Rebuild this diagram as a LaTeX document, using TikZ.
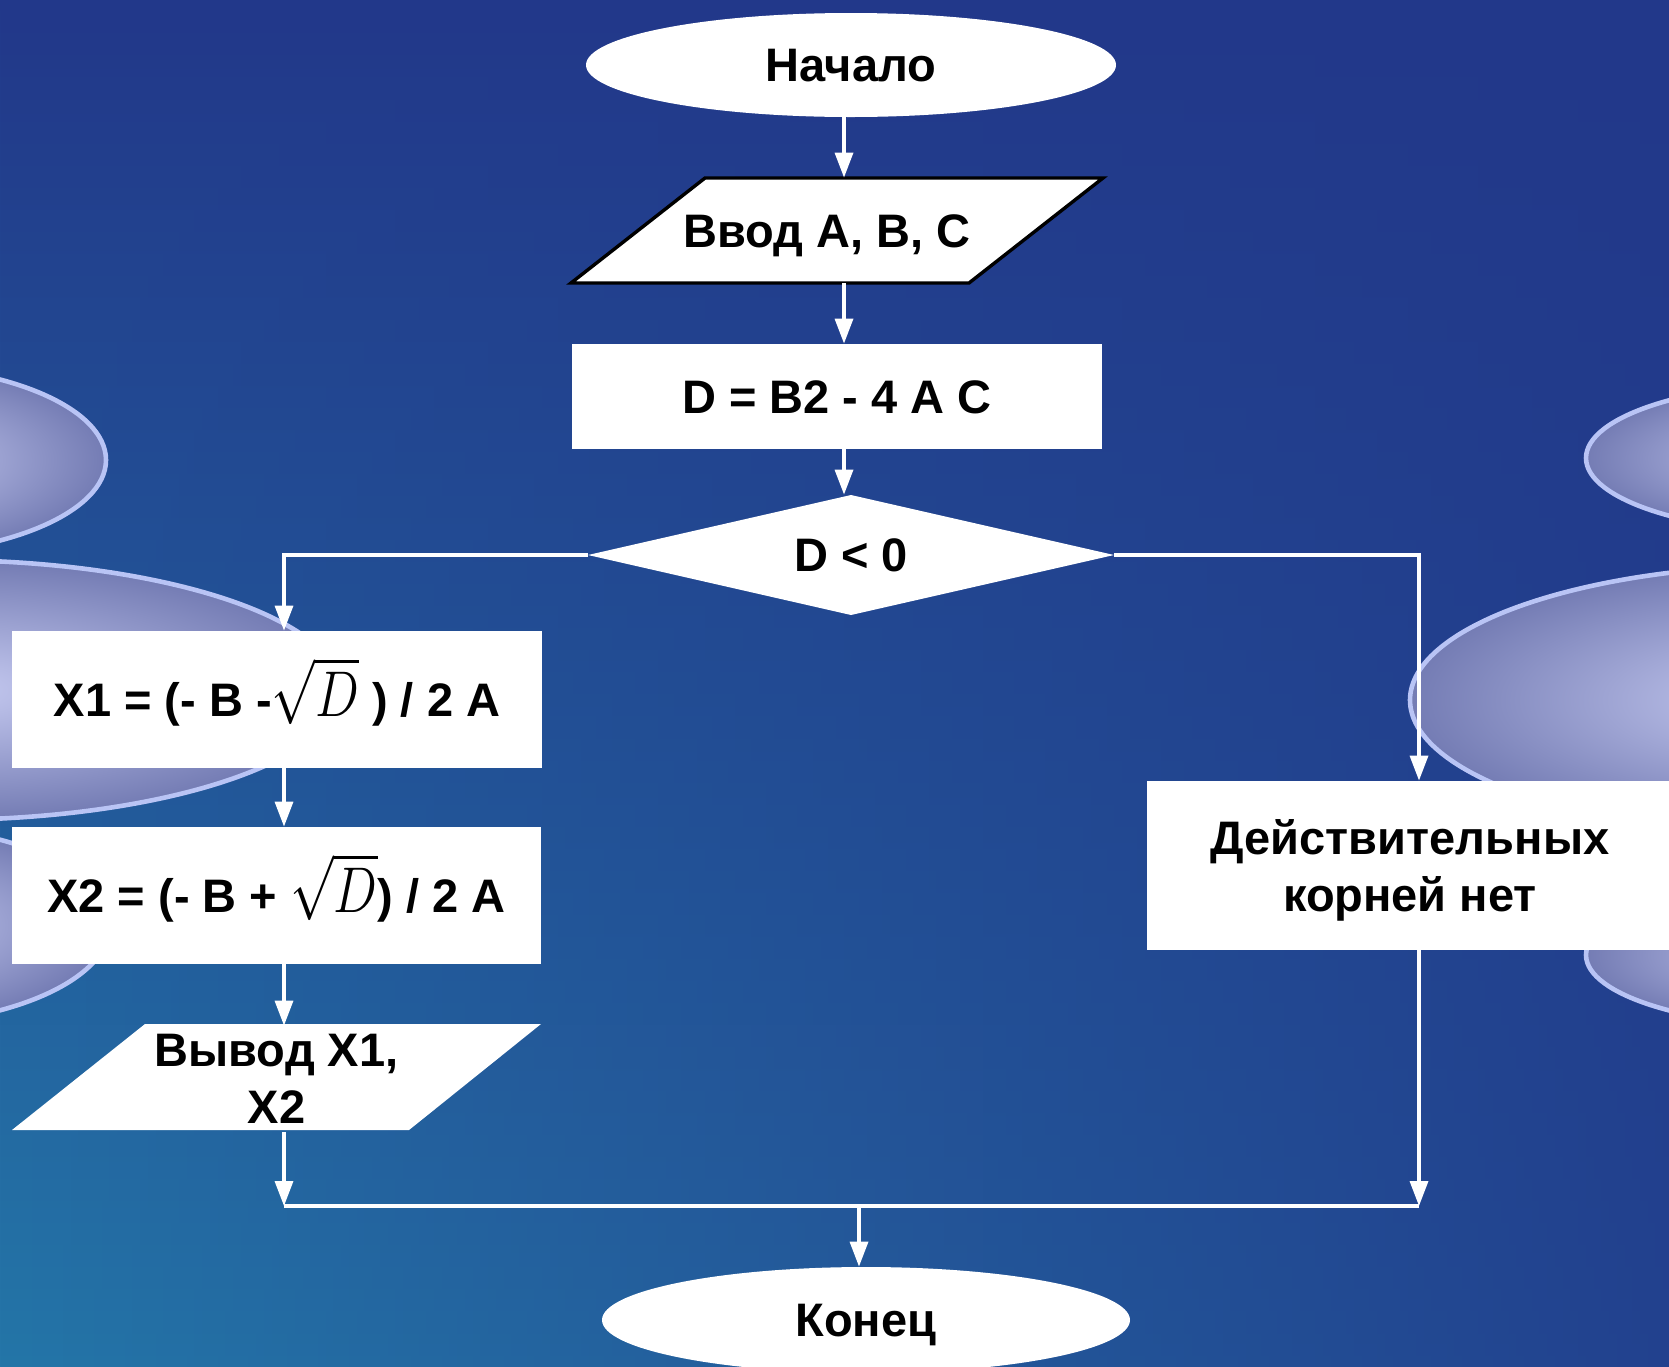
\documentclass[tikz,border=0pt]{standalone}
\usepackage{fontspec}
\setmainfont{Liberation Sans}
\usetikzlibrary{arrows.meta,shapes.geometric,fadings}
\definecolor{bgtop}{RGB}{34,56,138}
\definecolor{bgbot}{RGB}{36,118,168}
\definecolor{lensin}{RGB}{200,204,242}
\definecolor{lensout}{RGB}{116,124,180}
\definecolor{lensedge}{RGB}{185,196,245}
\tikzfading[name=fadeR, left color=transparent!100, right color=transparent!15]
\newcommand{\sqD}{\scalebox{1.05}[1.3]{$\sqrt{D}$}}
\begin{document}
\begin{tikzpicture}[x=0.5pt,y=-0.5pt,
  txt/.style={font=\fontsize{23.5pt}{28.5pt}\selectfont\bfseries, align=center, inner sep=0pt, text=black},
  one/.style={text height=16.8pt, text depth=0pt},
  wbox/.style={txt, rectangle, fill=white},
  term/.style={txt, one, ellipse, fill=white},
  anchorbox/.style={rectangle, inner sep=0pt},
  arr/.style={draw=white, line width=1.7pt, -{Triangle[length=12.5pt,width=9pt]}},
  wline/.style={draw=white, line width=1.7pt},
  lens/.style={draw=lensedge, line width=2.3pt, inner color=lensin, outer color=lensout},
  pgram/.style={fill=white}
]
\useasboundingbox (0,0) rectangle (1669,1366);
\begin{scope}
  \clip (0,0) rectangle (1669,1366);
  \shade[top color=bgtop, bottom color=bgbot] (0,0) rectangle (1669,1366);
  \fill[bgtop, path fading=fadeR] (0,0) rectangle (1669,1366);
  % decorative lenses
  \path[lens] (-120,460) ellipse [x radius=113pt, y radius=47.5pt];
  \path[lens] (-60,690) ellipse [x radius=200pt, y radius=65pt];
  \path[lens] (-120,925) ellipse [x radius=115pt, y radius=50pt];
  \path[lens] (1816,458) ellipse [x radius=115pt, y radius=37.5pt];
  \path[lens] (1800,700) ellipse [x radius=195pt, y radius=67.5pt];
  \path[lens] (1816,955) ellipse [x radius=115pt, y radius=36pt];
\end{scope}

% nodes
\node[term, minimum width=265pt, minimum height=52pt] (nachalo) at (851,65) {Начало};
\draw[pgram, draw=black, line width=1.7pt] (705,178) -- (1103,178) -- (969,283) -- (571,283) -- cycle;
\node[txt, one, minimum height=52.5pt] (vvod) at (827,230.5) {Ввод А, В, С};
\node[wbox, one, minimum width=265pt, minimum height=52.5pt] (dbox) at (837,396.5) {D = B2 - 4 A C};
\fill[white] (588,555) -- (851,495) -- (1114,555) -- (851,615) -- cycle;
\node[txt, one, anchorbox, minimum width=263pt, minimum height=60pt] (dia) at (851,555) {D < 0};
\node[wbox, one, minimum width=265pt, minimum height=68.5pt] (x1) at (277,699.5) {X1 = (- B -\sqD\ ) / 2 A};
\node[wbox, one, minimum width=264.5pt, minimum height=68.5pt] (x2) at (276.5,895.5) {X2 = (- B + \sqD) / 2 A};
\fill[pgram] (145,1024) -- (541,1024) -- (409,1130) -- (12,1130) -- cycle;
\node[txt, minimum height=53pt] (vyvod) at (276.5,1079) {Вывод Х1,\\Х2};
\node[wbox, minimum width=264pt, minimum height=84.5pt] (dk) at (1411,865.5) {};
\node[txt] (dktext) at (1410,870) {Действительных\\корней нет};
\node[term, minimum width=264pt, minimum height=53pt] (konec) at (866,1320) {Конец};

% connectors
\coordinate (cc) at (844,0);
\coordinate (cl) at (284,0);
\coordinate (cr) at (1419,0);
\coordinate (ck) at (859,0);
\coordinate (m1) at (284,1206);
\coordinate (m2) at (1419,1206);
\draw[arr] (nachalo.south -| cc) -- (vvod.north -| cc);
\draw[arr] (vvod.south -| cc) -- (dbox.north -| cc);
\draw[arr] (dbox.south -| cc) -- (dia.north -| cc);
\draw[arr] (dia.west) -| (x1.north -| cl);
\draw[arr] (dia.east) -| (dk.north -| cr);
\draw[arr] (x1.south -| cl) -- (x2.north -| cl);
\draw[arr] (x2.south -| cl) -- (vyvod.north -| cl);
\draw[arr] (vyvod.south -| cl) -- (m1);
\draw[arr] (dk.south -| cr) -- (m2);
\draw[wline] (m1) -- (m2);
\draw[arr] (m1 -| ck) -- (konec.north -| ck);
\end{tikzpicture}
\end{document}
